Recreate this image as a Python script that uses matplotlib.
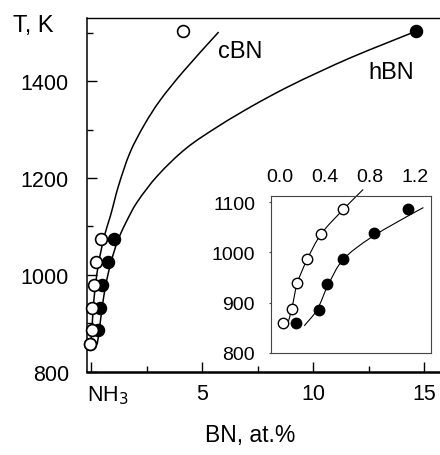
import matplotlib
matplotlib.use("Agg")
import numpy as np
import matplotlib.pyplot as plt
from matplotlib.ticker import MultipleLocator
from matplotlib.path import Path
from matplotlib.patches import PathPatch
from matplotlib.transforms import ScaledTranslation

plt.rcParams['font.family'] = ['Liberation Sans', 'DejaVu Sans']

# ---- main plot data ----
main_T = [1075, 1026, 978, 931, 885, 856]
main_cbn_x = [0.43, 0.21, 0.13, 0.06, 0.03, -0.04]
main_hbn_x = [1.05, 0.78, 0.48, 0.40, 0.30, -0.04]
cbn_high_x = [4.16]
cbn_high_T = [1505]
hbn_high_x = [14.66]
hbn_high_T = [1504]

cbn_curve_x = [-0.01, 0.04, 0.1, 0.2, 0.35, 0.6, 0.87, 1.24, 1.76, 2.40, 3.10, 4.15, 5.75]
cbn_curve_T = [856, 885, 931, 978, 1026, 1080, 1121, 1184, 1253, 1310, 1360, 1420, 1502]
hbn_curve_x = [0.28, 0.37, 0.5, 0.66, 0.9, 1.2, 1.54, 2.06, 3.0, 4.3, 5.8, 7.3, 8.8, 10.3, 11.75, 13.3, 14.66]
hbn_curve_T = [856, 885, 931, 978, 1026, 1070, 1105, 1149, 1205, 1262, 1309, 1350, 1387, 1420, 1450, 1479, 1504]

x_ticks = [0, 5, 10, 15]
x_ticklabels = ['NH$_3$', '5', '10', '15']
y_ticks = [800, 1000, 1200, 1400]

# ---- inset data ----
ins_open_x = [0.034, 0.108, 0.157, 0.241, 0.37, 0.559]
ins_open_T = [859, 887, 939, 986, 1037, 1086]
ins_fill_x = [0.146, 0.35, 0.423, 0.565, 0.839, 1.134]
ins_fill_T = [859, 886, 937, 986, 1038, 1086]
ins_open_curve_x = [0.073, 0.108, 0.157, 0.241, 0.367, 0.559, 0.74]
ins_open_curve_T = [858, 887, 938, 984, 1036, 1084, 1125]
ins_fill_curve_x = [0.219, 0.33, 0.43, 0.56, 0.80, 1.126, 1.273]
ins_fill_curve_T = [854, 885, 935, 985, 1028, 1071, 1089]
ins_x_ticks = [0.0, 0.4, 0.8, 1.2]
ins_x_ticklabels = ['0.0', '0.4', '0.8', '1.2']
ins_y_ticks = [800, 900, 1000, 1100]

W, H = 440, 456


def smooth_curve(ax, xs, ys, sx, sy, **kw):
    """Draw a smooth line through the given points (cubic Bezier pieces)."""
    p = np.column_stack([np.asarray(xs, float) * sx, np.asarray(ys, float) * sy])
    n = len(p)
    d = np.linalg.norm(np.diff(p, axis=0), axis=1)
    tang = np.zeros_like(p)
    for i in range(n):
        if i == 0:
            tang[i] = (p[1] - p[0]) / d[0]
        elif i == n - 1:
            tang[i] = (p[-1] - p[-2]) / d[-1]
        else:
            tang[i] = (p[i + 1] - p[i - 1]) / (d[i - 1] + d[i])
    verts = [p[0]]
    codes = [Path.MOVETO]
    for i in range(n - 1):
        c1 = p[i] + tang[i] * d[i] / 3
        c2 = p[i + 1] - tang[i + 1] * d[i] / 3
        verts += [c1, c2, p[i + 1]]
        codes += [Path.CURVE4] * 3
    verts = np.array(verts)
    verts[:, 0] /= sx
    verts[:, 1] /= sy
    patch = PathPatch(Path(verts, codes), facecolor='none', **kw)
    ax.add_patch(patch)
    return patch


fig = plt.figure(figsize=(W / 100, H / 100), dpi=100)

ax = fig.add_axes([87 / W, 1 - 373 / H, (W - 87) / W, (373 - 19) / H])
ax.set_xlim((87 - 91) / 22.2, (440 - 91) / 22.2)
ax.set_ylim(799, 1531)

smooth_curve(ax, cbn_curve_x, cbn_curve_T, 22.2, 0.4836, edgecolor='black', lw=1.1, zorder=2)
smooth_curve(ax, hbn_curve_x, hbn_curve_T, 22.2, 0.4836, edgecolor='black', lw=1.1, zorder=2)
ax.plot(main_hbn_x, main_T, 'o', ms=8.5, mfc='black', mec='black', mew=1.2, zorder=3, clip_on=False)
ax.plot(main_cbn_x, main_T, 'o', ms=8.5, mfc='white', mec='black', mew=1.2, zorder=4, clip_on=False)
ax.plot(cbn_high_x, cbn_high_T, 'o', ms=8.5, mfc='white', mec='black', mew=1.2, zorder=4)
ax.plot(hbn_high_x, hbn_high_T, 'o', ms=8.5, mfc='black', mec='black', mew=1.2, zorder=4)

ax.spines['right'].set_visible(False)
ax.spines['left'].set_linewidth(1.1)
ax.spines['top'].set_linewidth(1.0)
ax.spines['bottom'].set_linewidth(1.8)

ax.set_xticks(x_ticks)
ax.set_xticklabels(x_ticklabels)
ax.xaxis.set_minor_locator(MultipleLocator(2.5))
ax.set_yticks(y_ticks)
ax.yaxis.set_minor_locator(MultipleLocator(100))
ax.tick_params(axis='both', which='major', direction='in', length=7.2, width=1.0, labelsize=15.5)
ax.tick_params(axis='both', which='minor', direction='in', length=4, width=1.0)
ax.tick_params(axis='y', which='major', pad=13)
ax.tick_params(axis='x', which='major', pad=8)
ax.tick_params(right=False, top=False, which='both')
for lbl in ax.get_xticklabels():
    if lbl.get_text().startswith('NH'):
        lbl.set_horizontalalignment('left')
        lbl.set_transform(lbl.get_transform() + ScaledTranslation(-0.04, 0, fig.dpi_scale_trans))

fig.text(240 / W, 1 - 52 / H, 'cBN', fontsize=17, ha='center', va='center')
fig.text(391 / W, 1 - 73 / H, 'hBN', fontsize=17, ha='center', va='center')
fig.text(33.5 / W, 1 - 26 / H, 'T, K', fontsize=17, ha='center', va='center')
fig.text(250 / W, 1 - 436 / H, 'BN, at.%', fontsize=16.5, ha='center', va='center')

# ---- inset ----
ins = fig.add_axes([271 / W, 1 - 354 / H, 160 / W, 157 / H])
ins.set_xlim(-0.075, 1.34)
ins.set_ylim(800, 1112)
sxi, syi = 113.0, 0.503
p1 = smooth_curve(ins, ins_open_curve_x, ins_open_curve_T, sxi, syi, edgecolor='black', lw=0.8)
p2 = smooth_curve(ins, ins_fill_curve_x, ins_fill_curve_T, sxi, syi, edgecolor='black', lw=0.8)
p1.set_clip_on(False)
p2.set_clip_on(False)
ins.plot(ins_fill_x, ins_fill_T, 'o', ms=7.5, mfc='black', mec='black', mew=1.0, zorder=3)
ins.plot(ins_open_x, ins_open_T, 'o', ms=7.5, mfc='white', mec='black', mew=1.0, zorder=4)
for s in ins.spines.values():
    s.set_linewidth(0.8)
    s.set_color('#444444')
ins.set_xticks(ins_x_ticks)
ins.set_xticklabels(ins_x_ticklabels)
ins.set_yticks(ins_y_ticks)
ins.xaxis.tick_top()
ins.tick_params(axis='x', length=0, pad=8, labelsize=14)
ins.tick_params(axis='y', length=1.5, direction='out', pad=10, labelsize=14, color='#444444')

fig.savefig('out.png', dpi=100)
